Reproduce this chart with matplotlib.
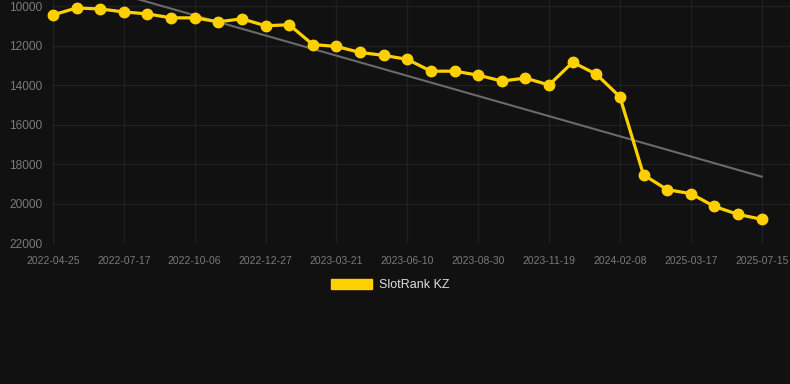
import matplotlib
matplotlib.use("Agg")
import matplotlib.pyplot as plt
from matplotlib.patches import Patch
import numpy as np

plt.rcParams['font.family'] = ['Liberation Sans', 'DejaVu Sans']

dates = ["2022-04-25", "2022-05-22", "2022-06-19", "2022-07-17", "2022-08-13", "2022-09-09",
         "2022-10-06", "2022-11-02", "2022-11-30", "2022-12-27", "2023-01-23", "2023-02-21",
         "2023-03-21", "2023-04-17", "2023-05-14", "2023-06-10", "2023-07-07", "2023-08-03",
         "2023-08-30", "2023-09-26", "2023-10-23", "2023-11-19", "2023-12-16", "2024-01-12",
         "2024-02-08", "2024-11-20", "2025-01-20", "2025-03-17", "2025-04-20", "2025-06-05",
         "2025-07-15"]
ranks = [10450, 10100, 10150, 10300, 10400, 10600, 10600, 10800, 10650, 11000, 10950,
         11950, 12050, 12350, 12500, 12700, 13300, 13300, 13500, 13800, 13650, 14000,
         12850, 13450, 14600, 18550, 19300, 19500, 20150, 20550, 20800]
trend_start, trend_end = 8430, 18640
yticks = [10000, 12000, 14000, 16000, 18000, 20000, 22000]
series_name = "SlotRank KZ"

bg = "#111111"
yellow = "#FFD000"

fig = plt.figure(figsize=(7.9, 3.84), dpi=100, facecolor=bg)
ax = fig.add_axes([52/790, 1 - 243/384, (790 - 52)/790, 243/384])
ax.set_facecolor(bg)

x = np.arange(len(ranks))
ax.plot([x[0], x[-1]], [trend_start, trend_end], color="#6a6a6a", lw=1.5, zorder=2)
ax.plot(x, ranks, color=yellow, lw=2.3, marker="o", markersize=7.5, zorder=3, clip_on=False)

ax.set_xlim(-0.04, 31.2)
ax.set_ylim(22000, 9696)
ax.set_yticks(yticks)
ax.set_yticklabels([str(v) for v in yticks])
ax.set_xticks(x[::3])
ax.set_xticklabels([dates[i] for i in x[::3]])

ax.grid(True, color="#202020", lw=1.0, zorder=0)
for s in ax.spines.values():
    s.set_visible(False)
ax.tick_params(axis="both", length=0, colors="#7a7a7a")
ax.tick_params(axis="y", labelsize=8.6, pad=7)
ax.tick_params(axis="x", labelsize=7.5, pad=9)

leg = fig.legend(handles=[Patch(facecolor=yellow, edgecolor=yellow, label=series_name)],
                 loc="center", bbox_to_anchor=(390/790, 1 - 285/384), frameon=False,
                 fontsize=9, handlelength=3.3, handleheight=0.9, handletextpad=0.55)
for t in leg.get_texts():
    t.set_color("#dddddd")

fig.savefig("out.png", dpi=100, facecolor=bg)
